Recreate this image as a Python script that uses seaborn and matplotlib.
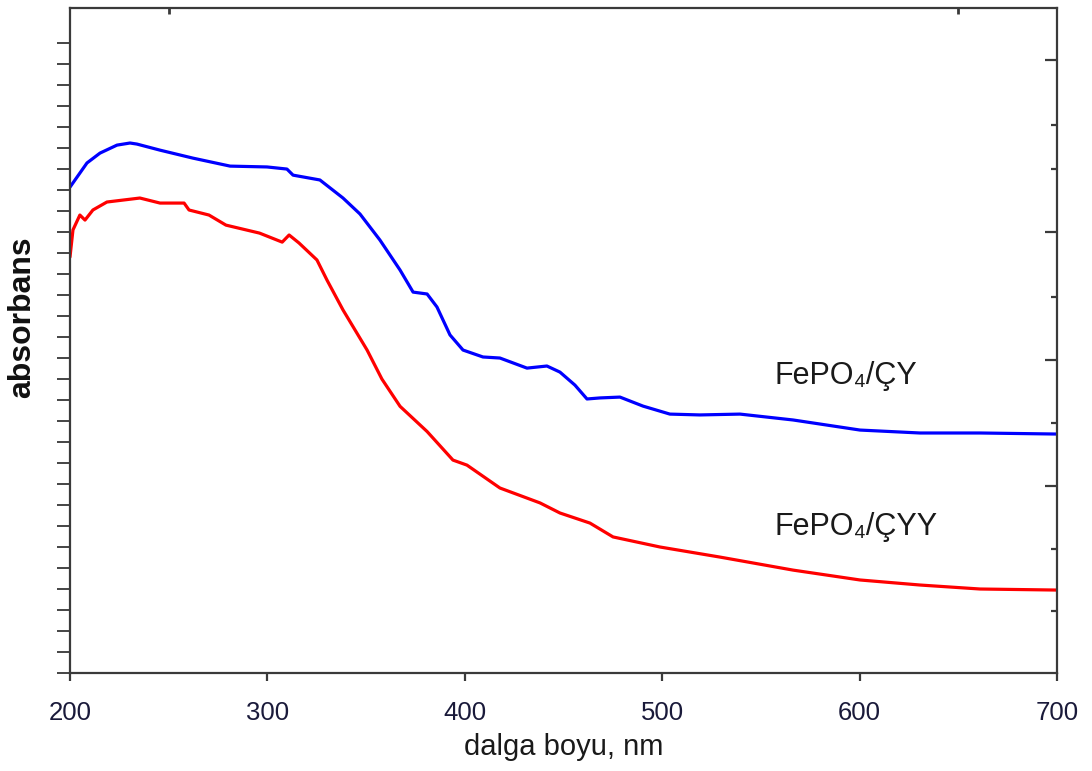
import numpy as np
import pandas as pd
import matplotlib
matplotlib.use("Agg")
import matplotlib.pyplot as plt
import seaborn as sns

# ---- data (absorbance in arbitrary units) ----
blue_nm = [200, 208.6, 215.2, 223.8, 230.4, 233.9, 245.6, 262.3, 281.1, 299.8,
           309.9, 313.0, 326.6, 338.3, 346.9, 357.0, 367.2, 373.8, 380.9, 385.9,
           392.5, 399.1, 409.2, 417.8, 431.5, 441.6, 448.2, 455.8, 461.9, 468.5,
           478.6, 490.3, 503.9, 519.1, 539.4, 566.3, 600.2, 630.6, 661.0, 700.0]
blue_abs = [2.314, 2.429, 2.476, 2.514, 2.524, 2.519, 2.490, 2.452, 2.414, 2.410,
            2.400, 2.371, 2.348, 2.262, 2.186, 2.062, 1.919, 1.814, 1.805, 1.743,
            1.610, 1.538, 1.505, 1.500, 1.452, 1.462, 1.433, 1.371, 1.305, 1.310,
            1.314, 1.271, 1.233, 1.229, 1.233, 1.205, 1.157, 1.143, 1.143, 1.138]

red_nm = [200, 201.5, 205.0, 207.6, 211.6, 218.7, 235.4, 245.6, 257.8, 260.3,
          270.4, 279.0, 296.0, 307.5, 311.0, 316.0, 325.1, 330.2, 338.3, 350.5,
          358.0, 367.2, 380.9, 394.0, 401.1, 417.8, 438.1, 448.2, 463.4, 475.1,
          498.9, 529.3, 566.3, 600.2, 630.6, 661.0, 700.0]
red_abs = [1.981, 2.110, 2.181, 2.157, 2.205, 2.243, 2.262, 2.238, 2.238, 2.205,
           2.181, 2.133, 2.095, 2.052, 2.086, 2.048, 1.967, 1.871, 1.729, 1.538,
           1.400, 1.270, 1.150, 1.014, 0.990, 0.881, 0.810, 0.762, 0.714, 0.648,
           0.600, 0.552, 0.490, 0.443, 0.419, 0.400, 0.395]

series_names = ["FePO\u2084/\u00c7Y", "FePO\u2084/\u00c7YY"]
series_colors = ["#0000FF", "#FF0000"]
label_x = [557, 557]
label_y = [1.376, 0.657]

x_ticks = [200, 300, 400, 500, 600, 700]
x_ticks_long = [200, 400, 600, 700]
top_ticks = [250, 650]
right_ticks_long = [0.890, 1.490, 2.100, 2.919]
right_ticks_short = [0.295, 0.590, 1.190, 1.790, 2.400, 2.610]

df = pd.concat([
    pd.DataFrame({"nm": blue_nm, "abs": blue_abs, "seri": series_names[0]}),
    pd.DataFrame({"nm": red_nm, "abs": red_abs, "seri": series_names[1]}),
], ignore_index=True)

sns.set_theme(style="white")
plt.rcParams["font.family"] = ["Liberation Sans", "DejaVu Sans"]

fig = plt.figure(figsize=(10.92, 7.71), dpi=100)
ax = fig.add_axes([70 / 1092, 1 - 673 / 771, 987 / 1092, 665 / 771])

sns.lineplot(data=df, x="nm", y="abs", hue="seri", palette=series_colors,
             hue_order=series_names, estimator=None, sort=True, lw=2.3,
             legend=False, ax=ax)

ax.set_xlim(200, 700)
ax.set_ylim(0, 3.167)

spine_c = "#3a3a3a"
for s in ax.spines.values():
    s.set_color(spine_c)
    s.set_linewidth(1.6)

# x ticks (bottom, outward)
ax.set_xticks(x_ticks)
ax.set_xticklabels([str(t) for t in x_ticks])
ax.set_xticks(x_ticks_long, minor=True)
ax.tick_params(axis="x", which="major", direction="out", length=6, width=1.6,
               color=spine_c, labelsize=18.5, labelcolor="#1a1a3a", pad=14)
ax.tick_params(axis="x", which="minor", direction="out", length=10, width=1.6,
               color=spine_c)

# y ticks (left, outward, no labels)
ax.set_yticks(np.arange(0, 3.05, 0.1))
ax.set_yticklabels([])
ax.tick_params(axis="y", which="major", direction="out", length=9.5, width=1.4,
               color="#444444", left=True)

# right ticks (inward)
axr = ax.twinx()
axr.set_ylim(ax.get_ylim())
axr.set_yticks(right_ticks_long)
axr.set_yticks(right_ticks_short, minor=True)
axr.set_yticklabels([])
axr.tick_params(axis="y", which="major", direction="in", length=9, width=1.6,
                color=spine_c, right=True)
axr.tick_params(axis="y", which="minor", direction="in", length=4, width=1.6,
                color=spine_c, right=True)
axr.grid(False)
for s in axr.spines.values():
    s.set_visible(False)

# top ticks (inward)
axt = ax.twiny()
axt.set_xlim(ax.get_xlim())
axt.set_xticks(top_ticks)
axt.set_xticklabels([])
axt.tick_params(axis="x", direction="in", length=4, width=2, color=spine_c, top=True)
axt.grid(False)
for s in axt.spines.values():
    s.set_visible(False)

ax.set_xlabel("dalga boyu, nm", fontsize=21, color="#1a1a1a", labelpad=6)
ax.set_ylabel("absorbans", fontsize=23, fontweight="bold", color="#111111")
ax.yaxis.set_label_coords(-0.033, 0.535)

for name, xx, yy in zip(series_names, label_x, label_y):
    ax.text(xx, yy, name, fontsize=22, color="#1a1a1a", ha="left", va="baseline")

ax.grid(False)
fig.savefig("out.png", dpi=100)
